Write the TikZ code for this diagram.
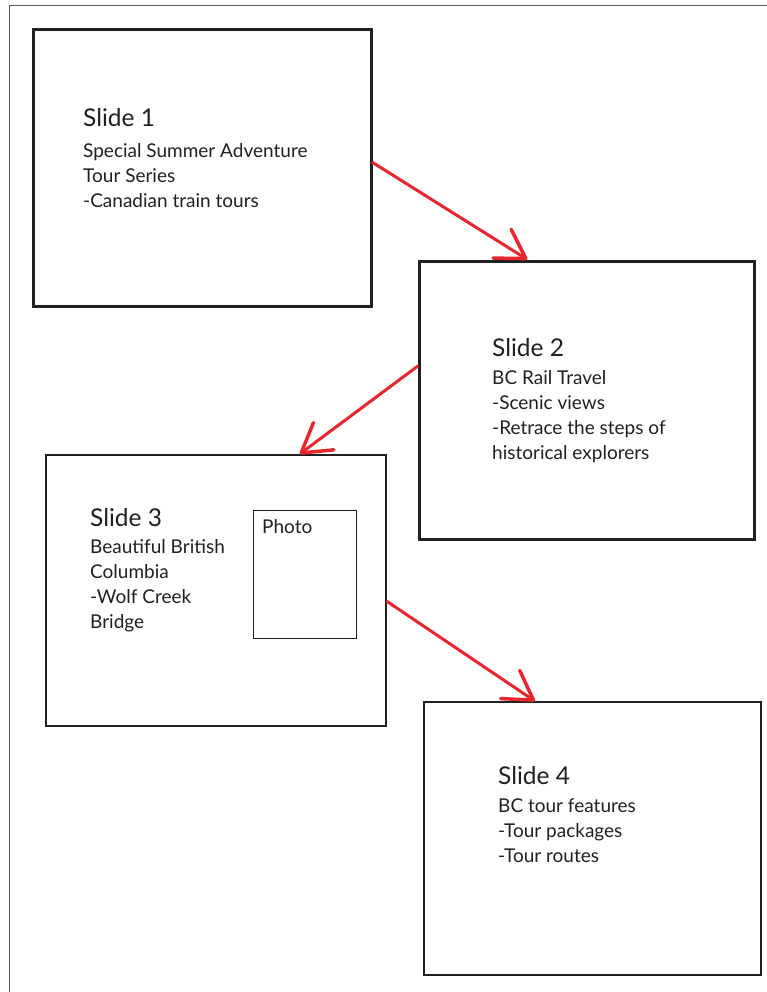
\documentclass[tikz,border=0pt]{standalone}
\usepackage{fontspec}
\setmainfont{Lato}
\usetikzlibrary{arrows.meta,calc}
\definecolor{ink}{HTML}{231F20}
\definecolor{inkred}{HTML}{E8262D}

\begin{document}
\begin{tikzpicture}[x=1pt,y=-1pt,
            slide/.style={draw=ink,rectangle,inner sep=0pt},
            info/.style={anchor=base west,align=left,inner sep=0pt,text=ink,
                font=\fontsize{19}{25}\selectfont},
            link/.style={draw=inkred,line width=3pt,line cap=round,
                -{Straight Barb[length=28pt,width=34pt,line width=3.5pt,round]}}]
            \useasboundingbox (0,0) rectangle (767,992);
            \draw[gray!70!black,line width=1pt] (9,992) -- (9,6) -- (767,6);
            % the four slides
            \node[slide,line width=3pt,minimum width=338pt,minimum height=276pt] (s1) at (202,168) {};
            \node[slide,line width=3pt,minimum width=335pt,minimum height=278pt] (s2) at (586.5,400) {};
            \node[slide,line width=2pt,minimum width=340pt,minimum height=271pt] (s3) at (216,590.5) {};
            \node[slide,line width=1.8pt,minimum width=337pt,minimum height=273pt] (s4) at (592.5,838.5) {};
            \node[slide,line width=1pt,minimum width=103pt,minimum height=128pt] (photo) at (304.5,574) {};
            % texts (anchored at the last line)
            \node[info] (t1) at (83,208) {{\fontsize{24.5}{25}\selectfont Slide 1}\\[6pt]
                Special Summer Adventure\\ Tour Series\\ -Canadian train tours};
            \node[info] (t2) at (492,459) {{\fontsize{24.5}{25}\selectfont Slide 2}\\[3pt]
                BC Rail Travel\\ -Scenic views\\ -Retrace the steps of\\ historical explorers};
            \node[info] (t3) at (90,628) {{\fontsize{24.5}{25}\selectfont Slide 3}\\[2pt]
                Beautiful British\\ Columbia\\ -Wolf Creek\\ Bridge};
            \node[info] (t4) at (498,862) {{\fontsize{24.5}{25}\selectfont Slide 4}\\[3pt]
                BC tour features\\ -Tour packages\\ -Tour routes};
            \node[info] (pl) at (262,533) {Photo};
            % arrows between slides
            \draw[link] ($(s1.north east)!0.48!(s1.south east)$) -- ($(s2.north west)!0.325!(s2.north east)$);
            \draw[link] ($(s2.north west)!0.38!(s2.south west)$) -- ($(s3.north west)!0.745!(s3.north east)$);
            \draw[link] ($(s3.north east)!0.54!(s3.south east)$) -- ($(s4.north west)!0.33!(s4.north east)$);
\end{tikzpicture}
\end{document}
